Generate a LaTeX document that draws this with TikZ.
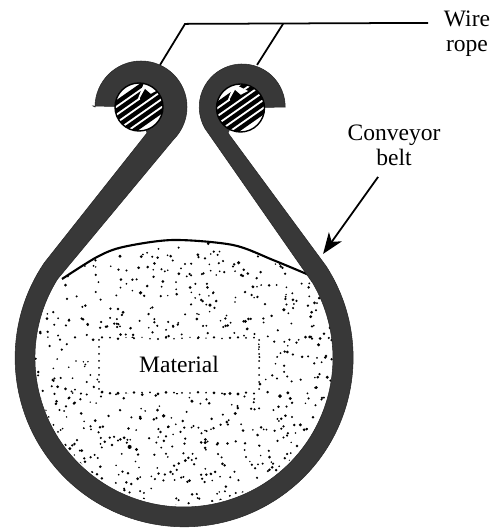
\documentclass[tikz,border=0pt]{standalone}
\usepackage{fontspec}
\setmainfont{Liberation Serif}
\usetikzlibrary{arrows.meta}
\definecolor{beltgray}{gray}{0.22}
\tikzset{
  beltfill/.style={fill=beltgray, draw=black!85, line width=0.3pt},
  leader/.style={draw=black, line width=1pt},
  labeltext/.style={font=\fontsize{13.4}{14.2}\selectfont, align=center, inner sep=0pt},
}
\begin{document}
\begin{tikzpicture}[scale=0.02]
  \useasboundingbox (0,0) rectangle (493,529);
  % material
  \begin{scope}
    \clip plot[smooth] coordinates {(62,250) (97,272) (123,282) (173,289) (233,284) (273,269) (313,248)}
      arc[start angle=30, end angle=-212, radius=149] -- cycle;
    \pgfmathsetseed{42}
    \foreach \i in {1,...,1000} {
      \pgfmathsetmacro{\dotx}{184+150*rand}
      \pgfmathsetmacro{\doty}{140+150*rand}
      \pgfmathsetmacro{\dotr}{0.8+0.6*rnd+0.8*rnd*rnd*rnd}
      \fill[black] (\dotx,\doty) circle (\dotr);
    }
  \end{scope}
  \fill[white] (100,136) rectangle (258,191);
  \foreach \dotx in {102,110,...,258} {
    \pgfmathsetmacro{\dotr}{0.8+0.9*rnd}
    \pgfmathsetmacro{\dotbot}{135+2*rnd}
    \pgfmathsetmacro{\dottop}{190+2*rnd}
    \fill[black] (\dotx,\dotbot) circle (\dotr);
    \fill[black] (\dotx,\dottop) circle (\dotr*0.8);
  }
  \foreach \doty in {140,147,...,190} {
    \fill[black] (99,\doty) circle (1);
    \fill[black] (259,\doty) circle (1);
  }
  \draw[line width=1.2pt] plot[smooth] coordinates {(62,250) (97,272) (123,282) (173,289) (233,284) (273,269) (309,254)};
  % belt
  \path[beltfill] (93,423) -- (95,422) arc[start angle=180, end angle=-45, radius=46]
    -- (57.6,250) arc[start angle=148, end angle=390, radius=149]
    -- (205,400.5) arc[start angle=210, end angle=0, radius=43]
    -- (240,421) -- (228,396) -- (326,263)
    arc[start angle=32.9, end angle=-214.3, radius=169]
    -- (147,396) -- (139,422) -- cycle;
  % ropes
  \foreach \ropex/\ropey/\blobx in {139/422/146, 240.5/421/236} {
    \begin{scope}[shift={(\ropex,\ropey)}]
      \fill[white] (0,0) circle (24);
      \begin{scope}
        \clip (0,0) circle (24);
        \foreach \stripe in {-20,-12,...,20}
          \draw[black, line width=2.5pt] (-40,\stripe-28) -- (40,\stripe+28);
        \fill[white] (\blobx-\ropex-9,6) -- (\blobx-\ropex+12,17) -- (\blobx-\ropex-2,24) -- cycle;
        \fill[black] (\blobx-\ropex-5,3) -- (\blobx-\ropex+6,12) -- (\blobx-\ropex-1,18) -- (\blobx-\ropex-6,9) -- cycle;
      \end{scope}
      \draw[black, line width=0.8pt] (0,0) circle (24);
    \end{scope}
  }
  % labels
  \node[labeltext] (wirelabel) at (467,495) {Wire\\rope};
  \node[labeltext] (beltlabel) at (394,384) {Conveyor\\belt};
  \node[labeltext] (materiallabel) at (179,165) {Material};
  % wires
  \coordinate (wirecornerl) at (185,505);
  \coordinate (wirecornerr) at (283,505);
  \coordinate (wireend) at (428,506);
  \coordinate (ropel) at (160,464);
  \coordinate (roper) at (257,464);
  \draw[leader] (ropel) -- (wirecornerl) -- (wireend);
  \draw[leader] (roper) -- (wirecornerr);
  % arrow to the belt
  \coordinate (arrowtail) at (378,352);
  \coordinate (arrowtip) at (323,275);
  \draw[leader, -{Stealth[length=12pt, width=9pt, inset=3.5pt]}] (arrowtail) -- (arrowtip);
\end{tikzpicture}
\end{document}
